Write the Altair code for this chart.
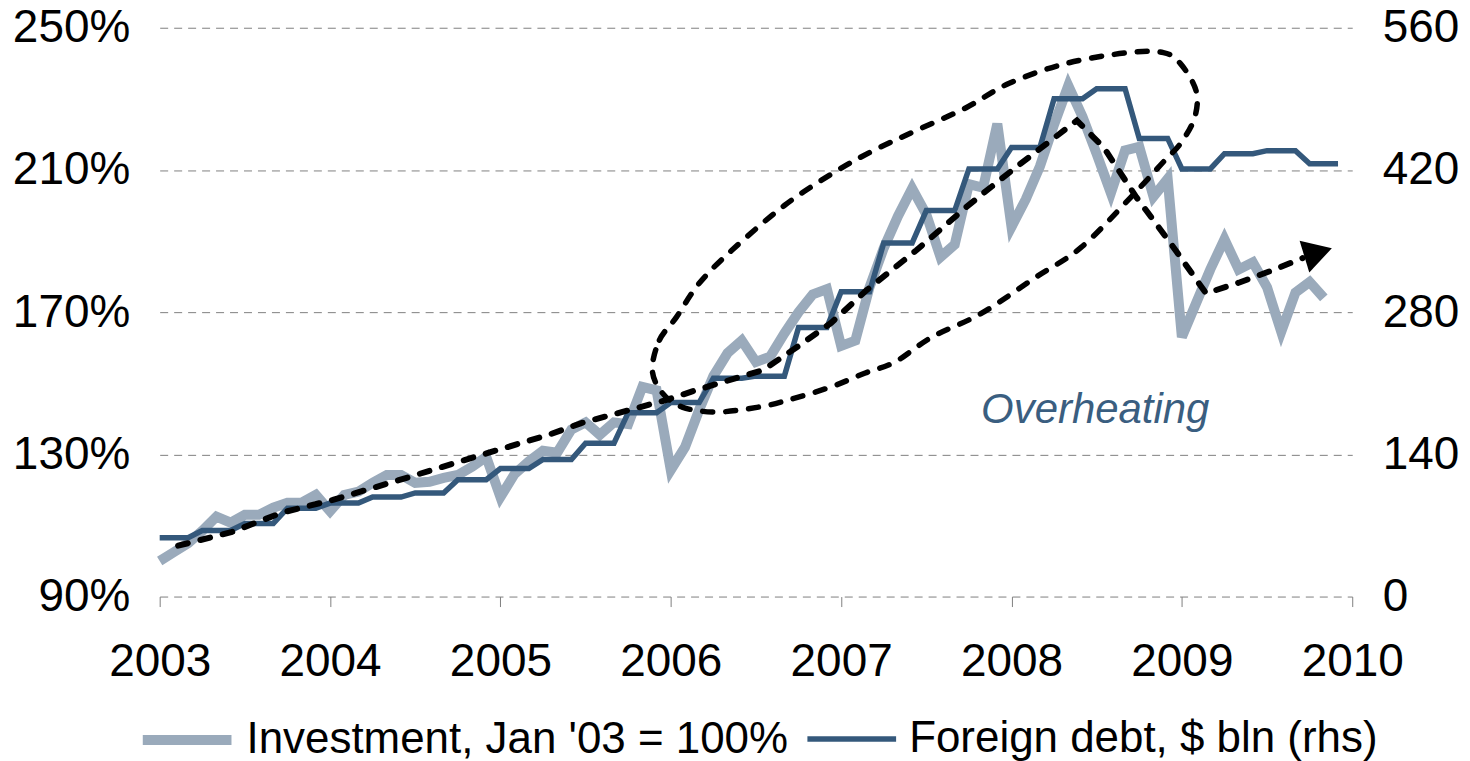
import altair as alt
import pandas as pd

INV_LABEL = "Investment, Jan '03 = 100%"
DEBT_LABEL = "Foreign debt, $ bln (rhs)"
SERIES = [INV_LABEL, DEBT_LABEL]

# Monthly values starting Jan 2003
investment = [
    100.0, 102.5, 105.0, 108.5, 112.5, 110.8, 113.0, 113.0, 115.0, 116.4, 116.4, 118.6,  # 2003
    114.0, 118.6, 119.5, 122.0, 124.2, 124.2, 122.0, 122.3, 123.4, 124.2, 126.5, 129.3,  # 2004
    118.0, 124.5, 128.0, 131.0, 130.5, 137.0, 139.0, 135.5, 139.0, 138.5, 149.0, 148.0,  # 2005
    125.6, 132.0, 142.5, 152.0, 158.5, 162.0, 156.0, 157.5, 164.0, 170.0, 175.0, 176.5,  # 2006
    160.5, 162.0, 177.0, 188.0, 197.0, 204.8, 197.5, 185.5, 189.0, 206.0, 205.0, 223.0,  # 2007
    194.0, 201.7, 211.0, 222.8, 233.7, 225.0, 214.5, 203.5, 215.5, 216.5, 202.5, 207.5,  # 2008
    163.0, 172.5, 182.0, 190.5, 182.0, 184.0, 177.0, 164.5, 175.5, 178.5, 174.0,        # 2009
]

foreign_debt = [
    58, 58, 58, 65, 65, 65, 72, 72, 72, 87, 87, 87,            # 2003
    92, 92, 92, 98, 98, 98, 102, 102, 102, 115, 115, 115,      # 2004
    126, 126, 126, 135, 135, 135, 151, 151, 151, 181, 181, 181,  # 2005
    191, 191, 191, 215, 215, 215, 217, 217, 217, 265, 265, 265,  # 2006
    300, 300, 300, 348, 348, 348, 380, 380, 380, 421, 421, 421,  # 2007
    442, 442, 442, 490, 490, 490, 500, 500, 500, 451, 451, 451,  # 2008
    421, 421, 421, 436, 436, 436, 439, 439, 439, 426, 426, 426,  # 2009
]

year_ticks = [2003, 2004, 2005, 2006, 2007, 2008, 2009, 2010]
left_ticks = [90, 130, 170, 210, 250]
right_ticks = [0, 140, 280, 420, 560]

# Annotation: dashed trend arrow (month index since Jan 2003, % on left axis)
trend_month = [1.3, 5.1, 8.6, 12.2, 16.9, 22.7, 27.4, 29.7, 35.7, 37.8, 42.5, 44.9, 47.3,
               49.8, 53.3, 56.8, 58.0, 60.3, 64.6, 66.5, 68.8, 71.2, 73.7, 76.1, 78.4, 80.5]
trend_pct = [104.3, 108.2, 113.6, 117.2, 122.8, 129.9, 135.5, 138.8, 145.3, 148.1, 153.7, 160.2, 167.0,
             176.2, 187.4, 199.5, 203.4, 210.7, 223.9, 216.3, 202.3, 189.4, 175.3, 178.4, 181.8, 185.2]
arrow_month = [81.6]
arrow_pct = [186.8]

# Annotation: dashed ellipse outline
ellipse_month = [34.7, 35.2, 36.4, 38.0, 40.3, 44.0, 47.5, 50.3, 53.3, 56.8, 59.8, 63.8, 68.2, 70.7,
                 71.9, 73.0, 72.9, 71.9, 70.8, 68.4, 64.9, 61.7, 57.9, 54.4, 51.8, 49.7, 47.3, 44.3,
                 42.2, 39.2, 36.8, 35.4]
ellipse_pct = [153.7, 162.1, 168.6, 178.1, 187.4, 200.0, 209.3, 215.5, 221.1, 227.5, 234.3, 239.9, 243.0, 243.0,
               239.9, 232.3, 224.7, 217.4, 212.7, 202.3, 188.2, 179.8, 169.7, 163.0, 156.0, 152.9, 149.0, 145.3,
               143.3, 141.9, 143.3, 147.3]

label_text = ["Overheating"]
label_month = [65.9]
label_pct = [142.5]

GREY = "#9AAABB"
DARK = "#34587B"
FONT = "Liberation Sans"
FS = 46
LFS = 44


def to_year(m):
    return 2003 + m / 12.0


df_inv = pd.DataFrame({"t": [to_year(i) for i in range(len(investment))],
                       "value": investment, "series": INV_LABEL})
df_debt = pd.DataFrame({"t": [to_year(i) for i in range(len(foreign_debt))],
                        "value": foreign_debt, "series": DEBT_LABEL})
df_trend = pd.DataFrame({"t": [to_year(m) for m in trend_month], "pct": trend_pct})
df_arrow = pd.DataFrame({"t": [to_year(m) for m in arrow_month], "pct": arrow_pct})
df_ell = pd.DataFrame({"t": [to_year(m) for m in ellipse_month], "pct": ellipse_pct,
                       "idx": list(range(len(ellipse_month)))})
df_lab = pd.DataFrame({"t": [to_year(m) for m in label_month], "pct": label_pct, "text": label_text})

x_enc = alt.X("t:Q",
              scale=alt.Scale(domain=[2003, 2010], nice=False, zero=False),
              axis=alt.Axis(values=year_ticks, format="d", title=None, grid=False, domain=False,
                            ticks=True, tickSize=10, tickColor="#808080", tickWidth=1,
                            labelPadding=33, labelFontSize=FS, labelFont=FONT, labelColor="black",
                            labelFlush=False))

left_scale = alt.Scale(domain=[90, 250], nice=False, zero=False)

legend = alt.Legend(orient="none", legendX=-22, legendY=664, direction="horizontal",
                    symbolType="stroke", symbolSize=7900, symbolStrokeWidth=8,
                    labelFontSize=LFS, labelFont=FONT, labelColor="black",
                    columnPadding=8, labelOffset=10, title=None, labelLimit=0)

color_enc = alt.Color("series:N", scale=alt.Scale(domain=SERIES, range=[GREY, DARK]), legend=legend)
sw_enc = alt.StrokeWidth("series:N", scale=alt.Scale(domain=SERIES, range=[10, 5.5]), legend=legend)

inv_line = alt.Chart(df_inv).mark_line().encode(
    x=x_enc,
    y=alt.Y("value:Q", scale=left_scale,
            axis=alt.Axis(values=left_ticks, labelExpr="datum.value + '%'", title=None, orient="left",
                          grid=True, gridDash=[8, 6], gridColor="#808080", gridWidth=1,
                          domain=False, ticks=False, labelPadding=30, labelFontSize=FS,
                          labelFont=FONT, labelColor="black")),
    color=color_enc,
    strokeWidth=sw_enc,
)

debt_line = alt.Chart(df_debt).mark_line().encode(
    x=x_enc,
    y=alt.Y("value:Q", scale=alt.Scale(domain=[0, 560], nice=False, zero=False),
            axis=alt.Axis(values=right_ticks, title=None, orient="right", grid=False,
                          domain=False, ticks=False, labelPadding=30, labelFontSize=FS,
                          labelFont=FONT, labelColor="black")),
    color=color_enc,
    strokeWidth=sw_enc,
)

ell = alt.Chart(df_ell).mark_line(color="black", strokeWidth=5.5, strokeDash=[10, 13],
                                  strokeCap="round", interpolate="cardinal-closed").encode(
    x=x_enc,
    y=alt.Y("pct:Q", scale=left_scale, axis=None),
    order="idx:Q",
)

trend = alt.Chart(df_trend).mark_line(color="black", strokeWidth=6, strokeDash=[10, 13],
                                      strokeCap="round").encode(
    x=x_enc,
    y=alt.Y("pct:Q", scale=left_scale, axis=None),
)

arrow = alt.Chart(df_arrow).mark_point(shape="triangle-right", filled=True, color="black",
                                       size=1100, angle=343, opacity=1).encode(
    x=x_enc,
    y=alt.Y("pct:Q", scale=left_scale, axis=None),
)

label = alt.Chart(df_lab).mark_text(font=FONT, fontSize=42, fontStyle="italic", color="#3A5E80",
                                    align="center", baseline="middle").encode(
    x=x_enc,
    y=alt.Y("pct:Q", scale=left_scale, axis=None),
    text="text:N",
)

chart = alt.layer(inv_line, debt_line, ell, trend, arrow, label).resolve_scale(
    y="independent"
).properties(
    width=1195, height=570,
    padding={"left": 152, "top": 19, "right": 110, "bottom": 164},
    autosize=alt.AutoSizeParams(type="none"),
).configure_view(stroke=None)

chart.save("out.html", embed_options={"renderer": "svg", "actions": False})
